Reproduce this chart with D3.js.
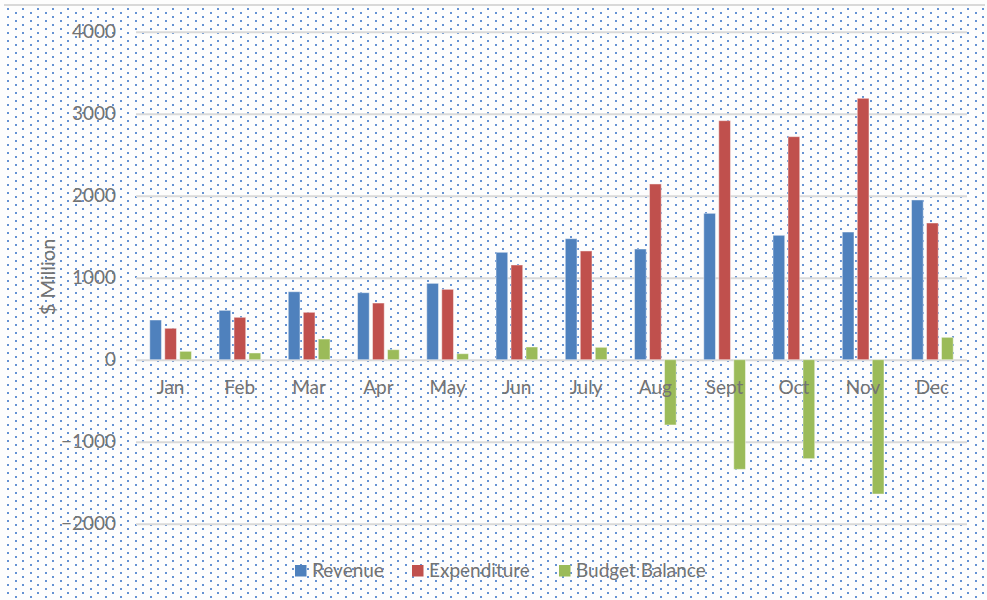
<!DOCTYPE html>
<html>
<head>
<meta charset="utf-8">
<script src="https://cdn.jsdelivr.net/npm/d3@7/dist/d3.min.js"></script>
<style>
  html, body { margin: 0; padding: 0; background: #fdfdfd; }
  svg { display: block; }
  text { font-family: Lato, "Open Sans", sans-serif; fill: #737373; }
</style>
</head>
<body>
<svg id="chart" width="987" height="600"></svg>
<script>
const months = ["Jan","Feb","Mar","Apr","May","Jun","July","Aug","Sept","Oct","Nov","Dec"];
const seriesNames = ["Revenue","Expenditure","Budget Balance"];
const revenue     = [484, 602, 829, 817, 931, 1310, 1476, 1350, 1785, 1517, 1557, 1948];
const expenditure = [383, 517, 578, 691, 858, 1155, 1326, 2143, 2915, 2720, 3188, 1667];
const balance     = [102, 82, 252, 122, 73, 155, 151, -796, -1337, -1207, -1638, 273];
const yTicks = [-2000, -1000, 0, 1000, 2000, 3000, 4000];
const colors = ["#4F81BD", "#C0504D", "#9BBB59"];

const seriesValues = [revenue, expenditure, balance];
const data = months.map((m, i) => ({
  month: m,
  values: seriesNames.map((s, j) => ({ series: s, value: seriesValues[j][i], color: colors[j] }))
}));

const svg = d3.select("#chart");
const W = 987, H = 600;

// dotted pattern background
const defs = svg.append("defs");
const pat = defs.append("pattern")
  .attr("id", "dots").attr("patternUnits", "userSpaceOnUse")
  .attr("x", 7).attr("y", 8).attr("width", 15).attr("height", 8);
pat.append("rect").attr("x", 0).attr("y", 0).attr("width", 2).attr("height", 2).attr("fill", "#6592d3");
pat.append("rect").attr("x", 8).attr("y", 4).attr("width", 2).attr("height", 2).attr("fill", "#6592d3");

svg.append("rect").attr("width", W).attr("height", H).attr("fill", "#fdfdfd");
svg.append("rect").attr("x", 4).attr("y", 5).attr("width", W - 6).attr("height", H - 5).attr("fill", "url(#dots)");
svg.append("line").attr("x1", 4).attr("x2", 985).attr("y1", 5).attr("y2", 5)
  .attr("stroke", "#d9d9d9").attr("stroke-width", 2);

const left = 136, right = 967;
const y = d3.scaleLinear().domain([-2000, 4000]).range([523.7, 31.7]);
const x0 = d3.scaleBand().domain(months).range([left, right]).paddingInner(0).paddingOuter(0);
const groupW = 41.7;
const x1 = d3.scaleBand().domain(seriesNames).range([0, groupW]).paddingInner(0.22).paddingOuter(0);

// gridlines + y labels
const yAxis = svg.append("g").attr("transform", `translate(${left},0)`)
  .call(d3.axisLeft(y).tickValues(yTicks).tickSize(-(right - left)).tickPadding(20).tickFormat(d3.format("d")));
yAxis.select(".domain").remove();
yAxis.selectAll(".tick line").attr("stroke", "#d9d9d9").attr("stroke-width", 2);
yAxis.selectAll(".tick text").style("font-size", "19px").attr("fill", "#737373");

// bars
const groups = svg.append("g").selectAll("g").data(data).join("g")
  .attr("transform", d => `translate(${x0(d.month) + x0.bandwidth() / 2 - groupW / 2},0)`);
groups.selectAll("rect").data(d => d.values).join("rect")
  .attr("x", d => x1(d.series))
  .attr("width", x1.bandwidth())
  .attr("y", d => y(Math.max(0, d.value)))
  .attr("height", d => Math.abs(y(d.value) - y(0)))
  .attr("fill", d => d.color)
  .attr("stroke", "#ffffff").attr("stroke-opacity", 0.45).attr("stroke-width", 1);

// category labels
const xAxis = svg.append("g").attr("transform", `translate(0,${y(0)})`)
  .call(d3.axisBottom(x0).tickSize(0).tickPadding(21));
xAxis.select(".domain").remove();
xAxis.selectAll(".tick text").style("font-size", "19px").attr("fill", "#737373");

// y title
svg.append("text")
  .attr("transform", "translate(55,277) rotate(-90)")
  .attr("text-anchor", "middle")
  .style("font-size", "20px")
  .text("$ Million");

// legend
const legendX = [295, 412, 559];
const leg = svg.append("g").selectAll("g").data(seriesNames).join("g")
  .attr("transform", (d, i) => `translate(${legendX[i]},565)`);
leg.append("rect").attr("width", 11.5).attr("height", 11.5).attr("fill", (d, i) => colors[i]);
leg.append("text").attr("x", 17).attr("y", 12).style("font-size", "19px").text(d => d);
</script>
</body>
</html>
